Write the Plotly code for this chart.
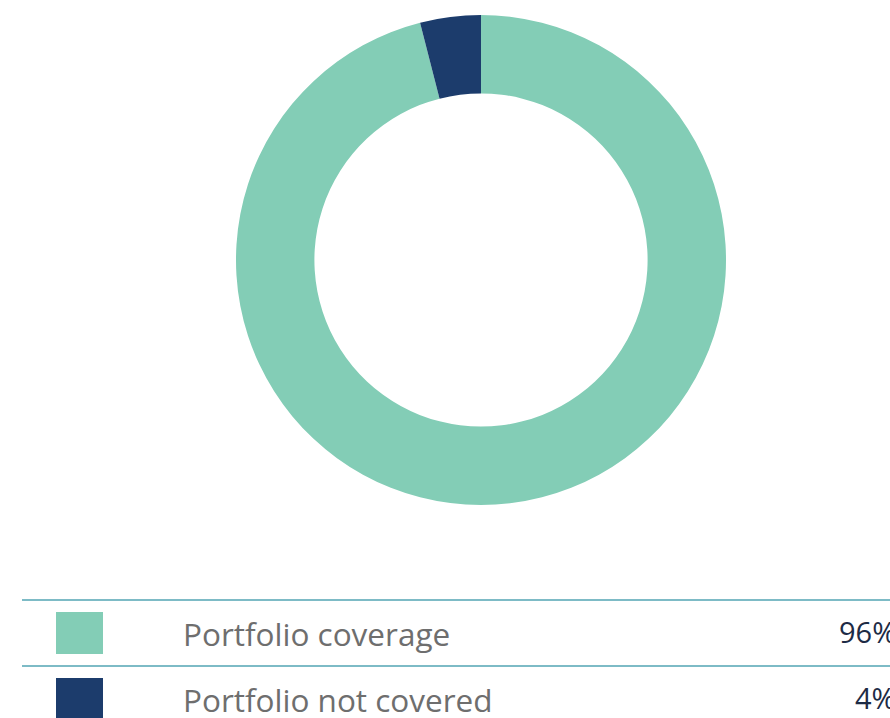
import plotly.graph_objects as go

# Portfolio coverage breakdown
labels = ["Portfolio coverage", "Portfolio not covered"]
values = [96, 4]
colors = ["#83CDB6", "#1C3C6C"]

W, H = 890, 718


def px_x(x):
    return x / W


def px_y(y):
    return 1 - y / H


fig = go.Figure(
    go.Pie(
        labels=labels,
        values=values,
        hole=0.68,
        sort=False,
        direction="clockwise",
        rotation=0,
        marker=dict(colors=colors, line=dict(width=0)),
        textinfo="none",
        hoverinfo="label+percent",
        showlegend=False,
        domain=dict(x=[px_x(236), px_x(726)], y=[px_y(505), px_y(15)]),
    )
)

shapes = []
annotations = []
row_top = 600
row_h = 66
line_color = "#7DBBC6"
for i, (lab, val, col) in enumerate(zip(labels, values, colors)):
    top = row_top + i * row_h
    shapes.append(dict(type="line", xref="paper", yref="paper",
                       x0=px_x(22), x1=1.0, y0=px_y(top), y1=px_y(top),
                       line=dict(color=line_color, width=2)))
    shapes.append(dict(type="rect", xref="paper", yref="paper",
                       x0=px_x(56), x1=px_x(103),
                       y0=px_y(top + 12), y1=px_y(top + 54),
                       fillcolor=col, line=dict(width=0)))
    annotations.append(dict(xref="paper", yref="paper", x=px_x(181), y=px_y(top + 33),
                             xanchor="left", yanchor="middle", showarrow=False,
                             text=lab,
                             font=dict(family="Open Sans", size=31.5, color="#6E6E6E")))
    annotations.append(dict(xref="paper", yref="paper", x=px_x(898), y=px_y(top + 31),
                             xanchor="right", yanchor="middle", showarrow=False,
                             text=f"{val}%",
                             font=dict(family="Open Sans", size=29, color="#1D2B45")))

fig.update_layout(
    width=W,
    height=H,
    margin=dict(l=0, r=0, t=0, b=0),
    paper_bgcolor="white",
    plot_bgcolor="white",
    shapes=shapes,
    annotations=annotations,
)

fig.write_html("out.html")
